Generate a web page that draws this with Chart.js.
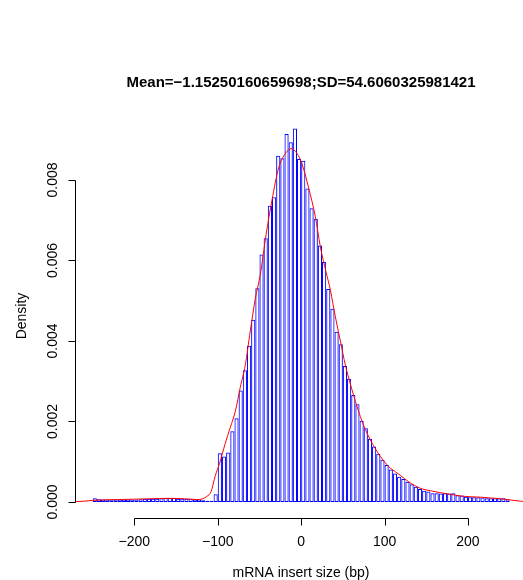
<!DOCTYPE html>
<html>
<head>
<meta charset="utf-8">
<script src="https://cdn.jsdelivr.net/npm/chart.js@4/dist/chart.umd.min.js"></script>
<style>
  html, body { margin: 0; padding: 0; background: #fff; }
  #wrap { width: 523px; height: 580px; }
</style>
</head>
<body>
<div id="wrap"><canvas id="hist" width="523" height="580"></canvas></div>
<script>
const titleText = 'Mean=\u22121.15250160659698;SD=54.6060325981421';
const xLabel = 'mRNA insert size (bp)';
const yLabel = 'Density';

// histogram breaks: -250 .. 250 by 5
const breakStart = -250;
const binWidth = 5;

const densities = [
  0.00009, 0.00007, 0.00006, 0.00006, 0.00006, 0.00006, 0.00006, 0.00006, 0.00006, 0.00006,
  0.00006, 0.00007, 0.00008, 0.00008, 0.00008, 0.00008, 0.00009, 0.00010, 0.00010, 0.00010,
  0.00008, 0.00008, 0.00008, 0.00008, 0.00006, 0.00006, 0.00004, 0.00003, 0.00003, 0.00019,
  0.00121, 0.00113, 0.00123, 0.00176, 0.00208, 0.00277, 0.00327, 0.00388, 0.00453, 0.00531,
  0.00615, 0.00655, 0.00736, 0.00757, 0.00860, 0.00854, 0.00914, 0.00894, 0.00928, 0.00852,
  0.00848, 0.00779, 0.00730, 0.00704, 0.00637, 0.00596, 0.00529, 0.00480, 0.00423, 0.00392,
  0.00338, 0.00306, 0.00266, 0.00243, 0.00202, 0.00183, 0.00157, 0.00138, 0.00120, 0.00105,
  0.00092, 0.00081, 0.00071, 0.00063, 0.00057, 0.00050, 0.00044, 0.00038, 0.00032, 0.00028,
  0.00026, 0.00022, 0.00022, 0.00021, 0.00022, 0.00021, 0.00022, 0.00017, 0.00016, 0.00013,
  0.00012, 0.00012, 0.00012, 0.00011, 0.00009, 0.00009, 0.00009, 0.00009, 0.00009, 0.00007
];

// kernel density curve
const curveX = [-275, -260, -250, -240, -220, -200, -180, -160, -140, -125, -118, -113, -108, -103,
  -98, -91, -85, -79, -73, -67, -61, -55, -49, -42, -35, -27, -19, -12, -5, 1, 9, 17, 23, 30, 35,
  41, 47, 53, 59, 65, 71, 77, 83, 89, 95, 101, 107, 113, 119, 129, 143, 155, 167, 179, 191, 203,
  215, 227, 239, 251, 263, 275];
const curveY = [0.00000, 0.00002, 0.00004, 0.00005, 0.00006, 0.00007, 0.00008, 0.00009, 0.00008,
  0.00006, 0.00008, 0.00014, 0.00026, 0.00065, 0.00095, 0.00146, 0.00185, 0.00225, 0.00285, 0.00340,
  0.00425, 0.00505, 0.00565, 0.00665, 0.00750, 0.00830, 0.00866, 0.00878, 0.00866, 0.00840, 0.00780,
  0.00709, 0.00634, 0.00570, 0.00527, 0.00460, 0.00400, 0.00340, 0.00293, 0.00250, 0.00212, 0.00180,
  0.00154, 0.00132, 0.00113, 0.00097, 0.00084, 0.00075, 0.00066, 0.00050, 0.00034, 0.00028, 0.00023,
  0.00019, 0.00015, 0.00013, 0.00012, 0.00010, 0.00008, 0.00005, 0.00002, 0.00000];

const xTicks = [-200, -100, 0, 100, 200];
const yTicks = [0, 0.002, 0.004, 0.006, 0.008];

const font = '"Liberation Sans", Arial, Helvetica, sans-serif';

const barData = densities.map((d, i) => ({ x: breakStart + binWidth * (i + 0.5), y: d }));
const curveData = curveX.map((x, i) => ({ x: x, y: curveY[i] }));

// R style axes + titles
const rAxes = {
  id: 'rAxes',
  afterDraw(chart) {
    const { ctx, scales: { x, y }, chartArea } = chart;
    ctx.save();
    ctx.strokeStyle = '#000';
    ctx.fillStyle = '#000';
    ctx.lineWidth = 1;

    // x axis
    const ay = Math.round(chartArea.bottom) + 0.5;
    ctx.beginPath();
    ctx.moveTo(Math.round(x.getPixelForValue(xTicks[0])) + 0.5, ay);
    ctx.lineTo(Math.round(x.getPixelForValue(xTicks[xTicks.length - 1])) + 0.5, ay);
    xTicks.forEach(v => {
      const px = Math.round(x.getPixelForValue(v)) + 0.5;
      ctx.moveTo(px, ay);
      ctx.lineTo(px, ay + 7);
    });
    ctx.stroke();
    ctx.font = '14px ' + font;
    ctx.textAlign = 'center';
    ctx.textBaseline = 'alphabetic';
    xTicks.forEach(v => {
      ctx.fillText(String(v).replace('-', '\u2212'), x.getPixelForValue(v), 546);
    });
    ctx.fillText(xLabel, (chartArea.left + 526) / 2, 577);

    // y axis
    const ax = Math.round(chartArea.left) - 0.5;
    ctx.beginPath();
    ctx.moveTo(ax, Math.round(y.getPixelForValue(yTicks[0])) + 0.5);
    ctx.lineTo(ax, Math.round(y.getPixelForValue(yTicks[yTicks.length - 1])) + 0.5);
    yTicks.forEach(v => {
      const py = Math.round(y.getPixelForValue(v)) + 0.5;
      ctx.moveTo(ax, py);
      ctx.lineTo(ax - 7, py);
    });
    ctx.stroke();
    yTicks.forEach(v => {
      ctx.save();
      ctx.translate(57, y.getPixelForValue(v));
      ctx.rotate(-Math.PI / 2);
      ctx.fillText(v.toFixed(3), 0, 0);
      ctx.restore();
    });
    ctx.save();
    ctx.translate(26, (chartArea.top + chartArea.bottom) / 2);
    ctx.rotate(-Math.PI / 2);
    ctx.fillText(yLabel, 0, 0);
    ctx.restore();

    // main title
    ctx.font = 'bold 15px ' + font;
    ctx.fillText(titleText, (chartArea.left + 526) / 2, 87);
    ctx.restore();
  }
};

new Chart(document.getElementById('hist'), {
  data: {
    datasets: [
      {
        type: 'line',
        data: curveData,
        borderColor: '#ff0000',
        borderWidth: 1,
        pointRadius: 0,
        fill: false,
        cubicInterpolationMode: 'monotone',
        order: 0
      },
      {
        type: 'bar',
        data: barData,
        backgroundColor: 'rgba(255,255,255,0)',
        borderColor: '#0000ff',
        borderSkipped: false,
        inflateAmount: 0,
        borderWidth: 1,
        barPercentage: 1,
        categoryPercentage: 1,
        order: 1
      }
    ]
  },
  options: {
    responsive: false,
    devicePixelRatio: 1,
    animation: false,
    events: [],
    layout: { padding: { left: 76, right: 0, top: 114, bottom: 62 } },
    plugins: { legend: { display: false }, tooltip: { enabled: false }, title: { display: false } },
    scales: {
      x: { type: 'linear', min: -270, max: 266, offset: false, display: false },
      y: { type: 'linear', min: -0.000398, max: 0.00964, display: false }
    }
  },
  plugins: [rAxes]
});
</script>
</body>
</html>
